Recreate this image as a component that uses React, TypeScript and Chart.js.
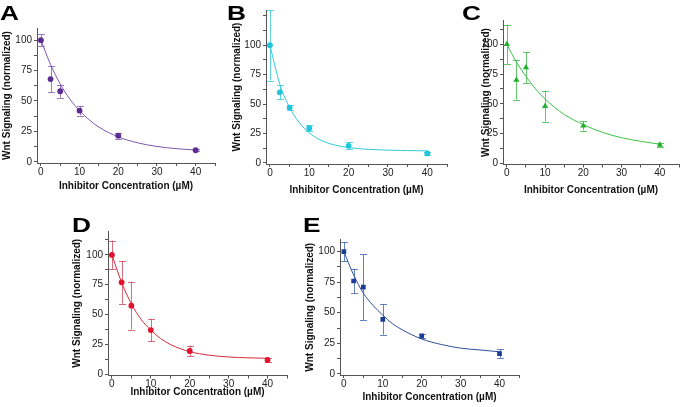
import React, { useEffect, useRef } from 'react';
import { Chart, registerables } from 'chart.js';

Chart.register(...registerables);

// ---------- data ----------
const concentrations = [0, 2.5, 5, 10, 20, 40];

const valuesA = [100, 68, 58, 42, 21.5, 9.5];
const errorsA = [5, 11, 5.5, 4, 2.5, 1];
const valuesB = [100, 60, 47, 29.5, 14.5, 8];
const errorsB = [30, 6, 2, 2.5, 3, 1.5];
const valuesC = [100, 70, 80.5, 48, 31.5, 15.5];
const errorsC = [16.5, 16.5, 13, 13, 4, 1.5];
const valuesD = [100, 77, 57.5, 37, 19.5, 12];
const errorsD = [12, 18, 20, 9.5, 4.5, 2];
const valuesE = [100, 76, 71, 44.5, 31, 16.5];
const errorsE = [8, 10, 27, 12.5, 1.5, 3.5];

// fitted curves
const curveX = [0, 2.5, 5, 7.5, 10, 12.5, 15, 20, 25, 30, 35, 40];
const curveA = [100, 80, 64, 51.5, 42, 34.5, 28.5, 20.5, 15.6, 12.6, 10.8, 9.7];
const curveB = [100, 67, 47, 34, 25.5, 20, 16.5, 13, 11.5, 10.8, 10.4, 10.2];
const curveC = [100, 85, 73, 62.5, 54, 47, 41, 32.5, 26, 21.5, 18.5, 16];
const curveD = [100, 77, 59, 46, 37, 30, 25, 19, 16, 14.5, 13.8, 13.4];
const curveE = [100, 81, 66, 56, 48, 41, 36, 28.5, 24, 21, 19.5, 18];

// ticks
const xTicks = [0, 5, 10, 15, 20, 25, 30, 35, 40, 45];
const xLabels = [0, 10, 20, 30, 40];
const yLabels = [0, 25, 50, 75, 100];
const yTicks110 = [0, 12.5, 25, 37.5, 50, 62.5, 75, 87.5, 100];
const yTicks120 = [0, 12.5, 25, 37.5, 50, 62.5, 75, 87.5, 100, 112.5];
const yTicks130 = [0, 12.5, 25, 37.5, 50, 62.5, 75, 87.5, 100, 112.5, 125];

const xTitle = 'Inhibitor Concentration (µM)';
const yTitle = 'Wnt Signaling (normalized)';

const FONT = '"Liberation Sans", Arial, Helvetica, sans-serif';

type Spec = {
  letter: string;
  color: string;
  barColor: string;
  lineColor: string;
  marker: string;
  radius: number;
  values: number[];
  errors: number[];
  curve: number[];
  yMax: number;
  yTicks: number[];
  canvas: [number, number, number, number]; // left, top, width, height
  area: [number, number, number, number]; // left, top, right, bottom
  xTitleY: number;
  yTitleX: number;
  letterPos: [number, number];
};

const panels: Spec[] = [
  {
    letter: 'A', color: '#5b2d92', barColor: 'rgba(120,80,170,0.75)', lineColor: '#7a58b4',
    marker: 'circle', radius: 2.9, values: valuesA, errors: errorsA, curve: curveA,
    yMax: 110, yTicks: yTicks110,
    canvas: [0, 0, 230, 200], area: [37, 28, 215, 163], xTitleY: 186, yTitleX: 7, letterPos: [0, 5],
  },
  {
    letter: 'B', color: '#1ec6dc', barColor: 'rgba(40,200,220,0.75)', lineColor: '#33c9dd',
    marker: 'circle', radius: 2.9, values: valuesB, errors: errorsB, curve: curveB,
    yMax: 130, yTicks: yTicks130,
    canvas: [228, 0, 225, 200], area: [266, 10, 447, 164], xTitleY: 190, yTitleX: 237.5, letterPos: [227, 5],
  },
  {
    letter: 'C', color: '#1fb02c', barColor: 'rgba(50,180,60,0.75)', lineColor: '#3cc346',
    marker: 'triangle', radius: 3.6, values: valuesC, errors: errorsC, curve: curveC,
    yMax: 120, yTicks: yTicks120,
    canvas: [455, 0, 228, 200], area: [503, 20.5, 682, 164.5], xTitleY: 190, yTitleX: 486, letterPos: [462, 5],
  },
  {
    letter: 'D', color: '#e3112b', barColor: 'rgba(200,60,80,0.75)', lineColor: '#d42a3c',
    marker: 'circle', radius: 2.9, values: valuesD, errors: errorsD, curve: curveD,
    yMax: 120, yTicks: yTicks120,
    canvas: [60, 205, 240, 202], area: [108, 231, 287, 375.5], xTitleY: 392, yTitleX: 77.7, letterPos: [72, 217],
  },
  {
    letter: 'E', color: '#1c3c96', barColor: 'rgba(50,90,170,0.75)', lineColor: '#2d4d9e',
    marker: 'rect', radius: 3.3, values: valuesE, errors: errorsE, curve: curveE,
    yMax: 110, yTicks: yTicks110,
    canvas: [295, 205, 240, 202], area: [340, 239.5, 519, 375], xTitleY: 397, yTitleX: 310, letterPos: [303, 217],
  },
];

const errorBarPlugin = {
  id: 'errorBars',
  beforeDatasetsDraw(chart: any) {
    const { ctx } = chart;
    const xs = chart.scales.x;
    const ys = chart.scales.y;
    chart.data.datasets.forEach((ds: any) => {
      if (!ds.errors) return;
      ctx.save();
      ctx.strokeStyle = ds.barColor;
      ctx.lineWidth = 1;
      ds.data.forEach((p: any, i: number) => {
        const e = ds.errors[i];
        const px = Math.round(xs.getPixelForValue(p.x)) + 0.5;
        const yTop = ys.getPixelForValue(p.y + e);
        const yBot = ys.getPixelForValue(p.y - e);
        const cap = 3.5;
        ctx.beginPath();
        ctx.moveTo(px, yTop);
        ctx.lineTo(px, yBot);
        ctx.moveTo(px - cap, Math.round(yTop) + 0.5);
        ctx.lineTo(px + cap, Math.round(yTop) + 0.5);
        ctx.moveTo(px - cap, Math.round(yBot) + 0.5);
        ctx.lineTo(px + cap, Math.round(yBot) + 0.5);
        ctx.stroke();
      });
      ctx.restore();
    });
  },
};

function Panel({ spec }: { spec: Spec }) {
  const ref = useRef<HTMLCanvasElement | null>(null);
  useEffect(() => {
    const canvas = ref.current;
    if (!canvas) return;
    const [cl, ct, cw, ch] = spec.canvas;
    const [al, at, ar, ab] = spec.area;
    const yW = al - cl;
    const xH = ct + ch - ab;
    const padTop = at - ct;
    const padRight = cl + cw - ar;
    const titleFont = { family: FONT, size: 10, weight: 'bold' as const, lineHeight: 1.2 };
    const tickFont = { family: FONT, size: 10, lineHeight: 1.2 };
    const axisColor = '#555555';
    const chart = new Chart(canvas, {
      type: 'scatter',
      data: {
        datasets: [
          {
            label: 'data',
            data: concentrations.map((x, i) => ({ x, y: spec.values[i] })),
            errors: spec.errors,
            barColor: spec.barColor,
            pointStyle: spec.marker,
            pointRadius: spec.radius,
            pointBackgroundColor: spec.color,
            pointBorderColor: spec.color,
            pointBorderWidth: 0,
            showLine: false,
          } as any,
          {
            label: 'fit',
            data: curveX.map((x, i) => ({ x, y: spec.curve[i] })),
            showLine: true,
            pointRadius: 0,
            borderColor: spec.lineColor,
            borderWidth: 1,
            cubicInterpolationMode: 'monotone',
            fill: false,
          } as any,
        ],
      },
      options: {
        animation: false,
        responsive: false,
        devicePixelRatio: 1,
        layout: { padding: { left: 0, top: padTop, right: padRight, bottom: 0 } },
        plugins: { legend: { display: false }, tooltip: { enabled: false } },
        scales: {
          x: {
            type: 'linear',
            min: -1,
            max: 45,
            afterBuildTicks: (s: any) => { s.ticks = xTicks.map((v) => ({ value: v })); },
            afterFit: (s: any) => { s.height = xH; },
            ticks: {
              autoSkip: false,
              maxRotation: 0,
              padding: 0,
              color: '#222',
              font: tickFont,
              callback: (v: any) => (xLabels.includes(Number(v)) ? String(v) : ''),
            },
            grid: { display: true, drawOnChartArea: false, drawTicks: true, tickLength: 3, color: axisColor, lineWidth: 1 },
            border: { display: true, color: axisColor, width: 1 },
            title: {
              display: true, text: xTitle, color: '#111', font: titleFont,
              padding: { top: 0, bottom: ct + ch - spec.xTitleY - 6 },
            },
          },
          y: {
            type: 'linear',
            min: -1,
            max: spec.yMax,
            afterBuildTicks: (s: any) => { s.ticks = spec.yTicks.map((v) => ({ value: v })); },
            afterFit: (s: any) => { s.width = yW; },
            ticks: {
              autoSkip: false,
              padding: 2,
              color: '#222',
              font: tickFont,
              callback: (v: any) => (yLabels.includes(Number(v)) ? String(v) : ''),
            },
            grid: { display: true, drawOnChartArea: false, drawTicks: true, tickLength: 3, color: axisColor, lineWidth: 1 },
            border: { display: true, color: axisColor, width: 1 },
            title: {
              display: true, text: yTitle, color: '#111', font: titleFont,
              padding: { top: spec.yTitleX - cl - 6, bottom: 0 },
            },
          },
        },
      } as any,
      plugins: [errorBarPlugin],
    });
    return () => chart.destroy();
  }, [spec]);

  const [cl, ct, cw, ch] = spec.canvas;
  return (
    <>
      <canvas
        ref={ref}
        width={cw}
        height={ch}
        style={{ position: 'absolute', left: cl, top: ct, width: cw, height: ch }}
      />
      <div
        style={{
          position: 'absolute',
          left: spec.letterPos[0],
          top: spec.letterPos[1] - 2.7,
          fontFamily: FONT,
          fontWeight: 'bold',
          fontSize: 21,
          lineHeight: '21px',
          color: '#000',
          transform: 'scaleX(1.25)',
          transformOrigin: 'left top',
        }}
      >
        {spec.letter}
      </div>
    </>
  );
}

export default function App() {
  return (
    <div
      style={{
        position: 'absolute',
        left: 0,
        top: 0,
        width: 683,
        height: 407,
        background: '#fff',
        overflow: 'hidden',
      }}
    >
      {panels.map((p) => (
        <Panel key={p.letter} spec={p} />
      ))}
    </div>
  );
}
